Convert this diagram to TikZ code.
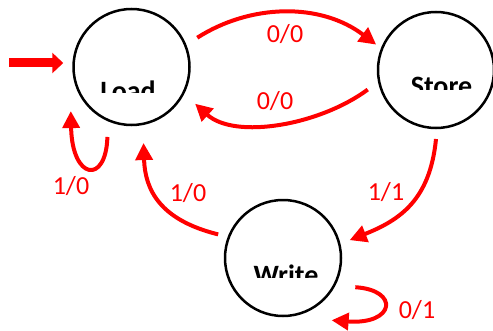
\documentclass[tikz,border=0pt]{standalone}
\usepackage{fontspec}
\setmainfont{Carlito}
\usetikzlibrary{arrows.meta,calc}
\begin{document}
\begin{tikzpicture}[x=1pt,y=1pt,
  state/.style={circle,draw=black,line width=2.5pt,minimum size=116pt,inner sep=0pt},
  stname/.style={font=\fontsize{28}{30}\selectfont\bfseries,inner sep=0pt,anchor=base},
  trans/.style={draw=red,line width=4pt,-{Triangle[length=17pt,width=17pt]}},
  tlabel/.style={font=\fontsize{26}{28}\selectfont,text=red,inner sep=0pt}]
\useasboundingbox (0,0) rectangle (493,330);
% states
\node[state] (L) at (131.5,263) {};
\node[state] (S) at (436,260) {};
\node[state] (W) at (283,72) {};
% clipped state names
\begin{scope}
  \clip (60,237) rectangle (200,262);
  \node[stname] (Ltxt) at (128,229) {Load};
\end{scope}
\begin{scope}
  \clip (380,240) rectangle (493,262);
  \node[stname] (Stxt) at (441.5,234.5) {Store};
\end{scope}
\begin{scope}
  \clip (230,53) rectangle (340,75);
  \node[stname] (Wtxt) at (286,46) {Write};
\end{scope}
% initial arrow
\coordinate (init) at (9,267);
\draw[red,line width=9pt,-{Triangle[length=11pt,width=20pt]},shorten >=9pt] (init) -- (init -| L.west);
% Load -> Store
\draw[trans] ($(L)+(24:72)$) .. controls (250,326) and (320,328) .. ($(S)+(157:65)$);
\node[tlabel] (l1) at (285,296) {0/0};
% Store -> Load
\draw[trans] ($(S)+(196:71)$) .. controls (320,205) and (235,190) .. ($(L)+(-30:73.5)$);
\node[tlabel] (l2) at (275,229) {0/0};
% Load self loop
\draw[trans] ($(L)+(251:74)$) .. controls (106,145) and (72,150) .. ($(L)+(216:75)$);
\node[tlabel] (l3) at (71,144) {1/0};
% Write -> Load
\draw[trans] ($(W)+(160:69)$) .. controls (160,110) and (145,140) .. ($(L)+(-81:77)$);
\node[tlabel] (l4) at (188,137) {1/0};
% Store -> Write
\draw[trans] ($(S)+(-90:69)$) .. controls (430,130) and (400,110) .. ($(W)+(15:69)$);
\node[tlabel] (l5) at (386,138) {1/1};
% Write self loop
\draw[trans] ($(W)+(-22:78)$) .. controls (400,40) and (395,5) .. ($(W)+(-52:79)$);
\node[tlabel] (l6) at (417,20) {0/1};
\end{tikzpicture}
\end{document}
